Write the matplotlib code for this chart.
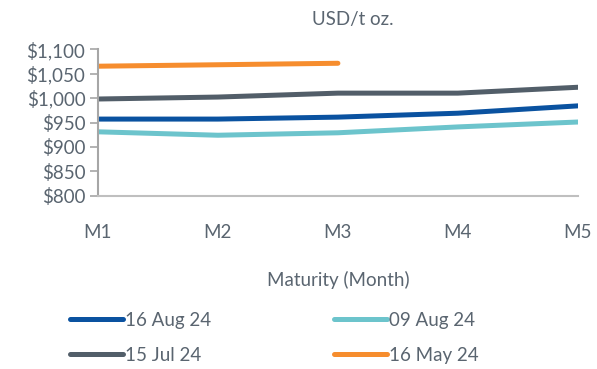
import matplotlib.pyplot as plt
from matplotlib.ticker import FuncFormatter

# forward curve by maturity month
months = ["M1", "M2", "M3", "M4", "M5"]
aug16 = [957, 957, 961, 969, 984]
aug09 = [931, 924, 929, 941, 951]
jul15 = [998, 1002, 1010, 1010, 1022]
may16 = [1065, 1068, 1071]

plt.rcParams['font.family'] = ['Lato', 'DejaVu Sans']
txt = '#5a6570'

fig = plt.figure(figsize=(5.97, 3.69), dpi=100)
ax = fig.add_axes([0.164, 0.469, 0.804, 0.398])

x = range(len(months))
l1, = ax.plot(x, aug16, color='#0a52a0', lw=3.6, solid_capstyle='round', label='16 Aug 24')
l2, = ax.plot(x, aug09, color='#6cc4cc', lw=3.6, solid_capstyle='round', label='09 Aug 24')
l3, = ax.plot(x, jul15, color='#525e69', lw=3.6, solid_capstyle='round', label='15 Jul 24')
l4, = ax.plot(range(len(may16)), may16, color='#f68d2e', lw=3.6, solid_capstyle='round', label='16 May 24')

ax.set_xlim(0, 4)
ax.set_ylim(800, 1100)
ax.set_yticks(range(800, 1101, 50))
ax.yaxis.set_major_formatter(FuncFormatter(lambda v, p: '${:,.0f}'.format(v)))
ax.set_xticks(list(x))
ax.set_xticklabels(months)

for s in ['top', 'right']:
    ax.spines[s].set_visible(False)
ax.spines['left'].set_color('#a6a6a6')
ax.spines['left'].set_linewidth(1.5)
ax.spines['bottom'].set_color('#bfbfbf')
ax.spines['bottom'].set_linewidth(1.5)

ax.tick_params(axis='y', colors='#a6a6a6', labelcolor=txt, labelsize=13.5, length=6, width=1.2, pad=3)
ax.tick_params(axis='x', length=0, labelcolor=txt, labelsize=13.5, pad=20)

ax.set_title('USD/t oz.', color=txt, fontsize=13.5, x=0.53, pad=17)
ax.set_xlabel('Maturity (Month)', color=txt, fontsize=13.5, labelpad=22)

# row-major order: handles listed column by column
handles = [l1, l3, l2, l4]
fig.legend(handles, [h.get_label() for h in handles], loc='upper left',
           bbox_to_anchor=(0.105, 0.175), ncol=2, frameon=False,
           fontsize=13.5, labelcolor=txt, handlelength=2.8, handletextpad=0.1,
           columnspacing=6.6, labelspacing=0.95, borderaxespad=0)
fig.savefig('out.png', dpi=100)
